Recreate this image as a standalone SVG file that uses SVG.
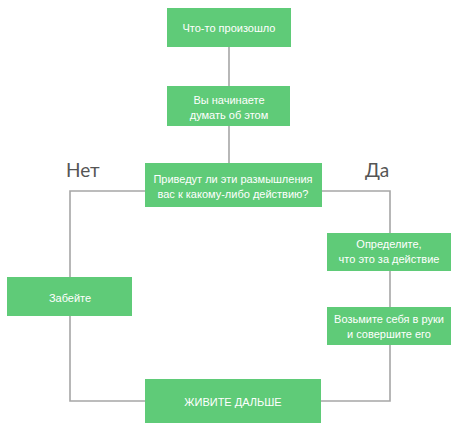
<svg xmlns="http://www.w3.org/2000/svg" width="460" height="445" viewBox="0 0 460 445">
<style>
.box{fill:#5fcb78;}
.t{font-family:"Liberation Sans","DejaVu Sans",sans-serif;font-size:11px;fill:#ffffff;text-anchor:middle;}
.lbl{font-family:"Lato","Liberation Sans",sans-serif;font-size:19px;fill:#555555;}
.ln{stroke:#a6a6a6;stroke-width:1.6;fill:none;}
</style>
<rect width="460" height="445" fill="#ffffff"/>
<g id="connectors">
<line class="ln" x1="229" y1="47" x2="229" y2="86"/>
<line class="ln" x1="229" y1="126" x2="229" y2="163"/>
<polyline class="ln" points="145,191 70,191 70,277"/>
<polyline class="ln" points="70,316 70,401 145,401"/>
<polyline class="ln" points="322,191 390,191 390,233"/>
<line class="ln" x1="390" y1="271" x2="390" y2="307"/>
<polyline class="ln" points="390,345 390,401 321,401"/>
</g>
<g id="label-net"><text class="lbl" x="66" y="177">Нет</text></g>
<g id="label-da"><text class="lbl" x="365" y="177">Да</text></g>
<g id="n1"><rect class="box" x="167" y="8" width="124" height="39"/><text class="t" x="229" y="32">Что-то произошло</text></g>
<g id="n2"><rect class="box" x="167" y="86" width="123" height="40"/><text class="t" x="229" y="104">Вы начинаете</text><text class="t" x="229" y="119">думать об этом</text></g>
<g id="n3"><rect class="box" x="145" y="163" width="177" height="44"/><text class="t" x="233" y="183">Приведут ли эти размышления</text><text class="t" x="233" y="198">вас к какому-либо действию?</text></g>
<g id="n4"><rect class="box" x="327" y="233" width="124" height="38"/><text class="t" x="389" y="248">Определите,</text><text class="t" x="389" y="263">что это за действие</text></g>
<g id="n5"><rect class="box" x="327" y="307" width="124" height="38"/><text class="t" x="389" y="323">Возьмите себя в руки</text><text class="t" x="389" y="338">и совершите его</text></g>
<g id="n6"><rect class="box" x="7" y="277" width="125" height="39"/><text class="t" x="70" y="302">Забейте</text></g>
<g id="n7"><rect class="box" x="145" y="379" width="176" height="44"/><text class="t" x="233" y="406">ЖИВИТЕ ДАЛЬШЕ</text></g>
</svg>
